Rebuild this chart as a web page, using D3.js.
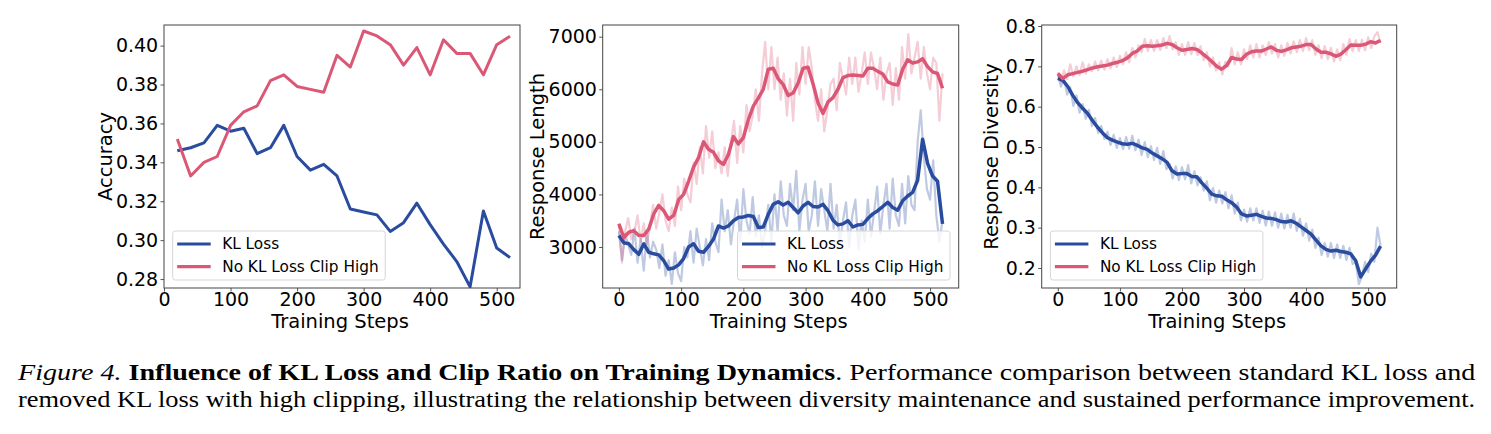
<!DOCTYPE html>
<html lang="en">
<head>
<meta charset="UTF-8" />
<title>Figure 4</title>
<style>
  body { margin: 0; background: #fff; }
  svg text { font-family: 'DejaVu Sans', sans-serif; fill: #000; }
  .caption text { font-family: 'Liberation Serif', 'Times New Roman', serif; }
</style>
</head>
<body>
<svg id="fig" width="1491" height="434"></svg>
<script src="https://cdn.jsdelivr.net/npm/d3@7"></script>
<script>
// ---- data ----
const seriesNames = ['KL Loss', 'No KL Loss Clip High'];

// panel 1: accuracy, evaluated every 20 steps
const accSteps = [20, 40, 60, 80, 100, 120, 140, 160, 180, 200, 220, 240, 260,
  280, 300, 320, 340, 360, 380, 400, 420, 440, 460, 480, 500, 520];
const accKL = [0.346, 0.3475, 0.350, 0.359, 0.356, 0.3575, 0.3445, 0.3475, 0.359, 0.343,
  0.336, 0.339, 0.333, 0.316, 0.3145, 0.313, 0.3045, 0.309, 0.319, 0.308,
  0.298, 0.289, 0.276, 0.315, 0.296, 0.291];
const accNoKL = [0.352, 0.333, 0.340, 0.343, 0.359, 0.366, 0.369, 0.382, 0.385, 0.379,
  0.3775, 0.376, 0.395, 0.389, 0.4075, 0.405, 0.4005, 0.390, 0.399, 0.385,
  0.403, 0.396, 0.396, 0.385, 0.4005, 0.4048];

// panels 2 and 3: raw curve read every 5 steps, smoothed curve every 8 steps
const rawSteps = d3.range(0, 521, 5);
const smoothSteps = d3.range(0, 521, 8);

const lenKLRaw = [3300, 2750, 3250, 3050, 2850, 3350, 2700, 3150, 2550, 3300,
  2800, 3100, 2950, 2600, 3050, 2450, 2750, 2300, 2900, 2500,
  2350, 3000, 2800, 3300, 2700, 3350, 3000, 2650, 3150, 2750,
  3450, 3100, 2900, 3900, 3300, 3700, 3050, 3500, 3900, 3100,
  4100, 3500, 3250, 3950, 3200, 3600, 3000, 3300, 3800, 3100,
  4000, 3300, 4250, 3600, 3400, 4200, 3700, 4450, 3300, 3900,
  4200, 3300, 3600, 4250, 3400, 4100, 3700, 3300, 4200, 3350,
  3800, 3050, 3500, 3850, 3000, 3600, 3900, 2950, 3500, 3100,
  3900, 3200, 3650, 4150, 3250, 3800, 4200, 3350, 4300, 3600,
  3400, 4200, 3450, 4350, 3800, 3700, 5000, 5600, 4700, 4100,
  3900, 4650, 3600, 3100, 3500];
const lenNoKLRaw = [3450, 2700, 3300, 3550, 3150, 3300, 3600, 3100, 3450, 3050,
  3400, 3800, 3350, 3650, 4000, 3500, 3300, 3750, 3400, 4150,
  3700, 4300, 4000, 3850, 4600, 4200, 4900, 4400, 5300, 4700,
  5200, 4500, 4800, 4400, 4900, 4350, 5000, 5400, 4600, 5300,
  4800, 5700, 5200, 5500, 6000, 5400, 6300, 6900, 6000, 6800,
  6000, 6600, 5800, 6300, 5500, 6200, 5400, 6500, 5900, 6800,
  6100, 6800, 6400, 5800, 5400, 6000, 5200, 5600, 6100, 6200,
  5600, 6500, 6200, 5900, 6600, 6100, 6600, 5950, 6300, 6700,
  6100, 6700, 6400, 6000, 6600, 5800, 6300, 6500, 5700, 6400,
  5800, 6800, 6200, 7050, 6300, 6600, 6900, 6200, 6800, 6300,
  6000, 6600, 6500, 5400, 6300];
const lenKLSmooth = [3220, 3080, 3060, 2950, 2860, 3060, 2900, 2870, 2850, 2740,
  2580, 2600, 2660, 2780, 3000, 3060, 2920, 2900, 3010, 3150,
  3400, 3360, 3400, 3500, 3560, 3570, 3600, 3580, 3370, 3380,
  3620, 3810, 3860, 3800, 3850, 3750, 3650, 3780, 3850, 3770,
  3760, 3810, 3690, 3510, 3420, 3440, 3500, 3380, 3420, 3430,
  3540, 3630, 3690, 3770, 3850, 3750, 3700, 3880, 3970, 4040,
  4270, 5050, 4590, 4350, 4250, 3440];
const lenNoKLSmooth = [3440, 3180, 3280, 3310, 3220, 3220, 3340, 3630, 3790, 3690,
  3530, 3600, 3900, 4000, 4250, 4520, 4700, 5000, 4860, 4800,
  4640, 4570, 4760, 5100, 4960, 5080, 5420, 5680, 5830, 6000,
  6380, 6400, 6200, 6090, 5880, 5930, 6120, 6400, 6420, 6100,
  5740, 5540, 5760, 5840, 6000, 6220, 6260, 6270, 6260, 6250,
  6400, 6400, 6340, 6290, 6140, 6100, 6080, 6380, 6560, 6500,
  6520, 6580, 6430, 6330, 6300, 6020];

const divKLRaw = [0.680, 0.650, 0.670, 0.630, 0.648, 0.602, 0.628, 0.585, 0.606, 0.570,
  0.592, 0.552, 0.572, 0.535, 0.552, 0.520, 0.538, 0.505, 0.530, 0.498,
  0.522, 0.495, 0.525, 0.496, 0.528, 0.492, 0.518, 0.480, 0.512, 0.475,
  0.502, 0.468, 0.498, 0.458, 0.490, 0.445, 0.458, 0.422, 0.452, 0.418,
  0.450, 0.420, 0.455, 0.410, 0.440, 0.405, 0.425, 0.392, 0.415, 0.368,
  0.398, 0.362, 0.392, 0.360, 0.388, 0.348, 0.380, 0.335, 0.362, 0.318,
  0.345, 0.315, 0.348, 0.318, 0.348, 0.312, 0.342, 0.305, 0.340, 0.305,
  0.338, 0.300, 0.335, 0.298, 0.332, 0.300, 0.335, 0.292, 0.322, 0.280,
  0.310, 0.268, 0.295, 0.250, 0.275, 0.232, 0.262, 0.228, 0.262, 0.225,
  0.258, 0.225, 0.255, 0.220, 0.250, 0.210, 0.215, 0.160, 0.180, 0.215,
  0.190, 0.235, 0.215, 0.300, 0.255];
const divNoKLRaw = [0.685, 0.660, 0.690, 0.668, 0.705, 0.675, 0.700, 0.678, 0.710, 0.682,
  0.705, 0.688, 0.712, 0.690, 0.714, 0.692, 0.718, 0.695, 0.722, 0.698,
  0.726, 0.705, 0.735, 0.710, 0.745, 0.722, 0.752, 0.735, 0.768, 0.738,
  0.765, 0.738, 0.765, 0.740, 0.770, 0.745, 0.775, 0.742, 0.760, 0.728,
  0.755, 0.728, 0.760, 0.730, 0.758, 0.728, 0.750, 0.715, 0.735, 0.700,
  0.722, 0.690, 0.710, 0.680, 0.712, 0.700, 0.745, 0.705, 0.735, 0.705,
  0.742, 0.718, 0.752, 0.722, 0.755, 0.722, 0.752, 0.728, 0.760, 0.732,
  0.755, 0.722, 0.752, 0.726, 0.758, 0.732, 0.762, 0.735, 0.765, 0.738,
  0.770, 0.740, 0.765, 0.728, 0.752, 0.720, 0.750, 0.718, 0.746, 0.712,
  0.742, 0.715, 0.755, 0.728, 0.768, 0.738, 0.765, 0.738, 0.766, 0.740,
  0.772, 0.745, 0.775, 0.785, 0.758];
const divKLSmooth = [0.670, 0.665, 0.650, 0.628, 0.610, 0.596, 0.583, 0.565, 0.549, 0.535,
  0.523, 0.517, 0.512, 0.508, 0.507, 0.509, 0.504, 0.498, 0.494, 0.485,
  0.478, 0.471, 0.462, 0.441, 0.433, 0.434, 0.434, 0.427, 0.426, 0.411,
  0.398, 0.383, 0.379, 0.378, 0.369, 0.362, 0.351, 0.334, 0.329, 0.331,
  0.333, 0.328, 0.324, 0.323, 0.320, 0.315, 0.314, 0.317, 0.311, 0.302,
  0.293, 0.284, 0.269, 0.255, 0.246, 0.242, 0.244, 0.241, 0.239, 0.235,
  0.218, 0.178, 0.198, 0.217, 0.232, 0.254];
const divNoKLSmooth = [0.682, 0.670, 0.679, 0.682, 0.685, 0.688, 0.692, 0.696, 0.699, 0.701,
  0.703, 0.707, 0.710, 0.714, 0.721, 0.732, 0.738, 0.750, 0.751, 0.750,
  0.751, 0.753, 0.757, 0.754, 0.746, 0.740, 0.742, 0.744, 0.742, 0.733,
  0.723, 0.712, 0.700, 0.693, 0.702, 0.722, 0.718, 0.717, 0.730, 0.736,
  0.738, 0.738, 0.743, 0.748, 0.740, 0.737, 0.741, 0.746, 0.748, 0.750,
  0.754, 0.754, 0.743, 0.735, 0.735, 0.731, 0.725, 0.730, 0.741, 0.753,
  0.752, 0.752, 0.755, 0.761, 0.758, 0.764];

// tick labels
const xTicks = [0, 100, 200, 300, 400, 500];
const accTicks = [0.28, 0.30, 0.32, 0.34, 0.36, 0.38, 0.40];
const lenTicks = [3000, 4000, 5000, 6000, 7000];
const divTicks = [0.2, 0.3, 0.4, 0.5, 0.6, 0.7, 0.8];

// ---- drawing ----
const BLUE = '#2a4c9f';
const PINK = '#da5876';
const TOP = 25, BOTTOM = 288;

const svg = d3.select('#fig');

function drawPanel(opt) {
  const g = svg.append('g');
  const x = d3.scaleLinear().domain(opt.xDomain).range([opt.left, opt.left + opt.width]);
  const y = d3.scaleLinear().domain(opt.yDomain).range([BOTTOM, TOP]);

  const clipId = 'clip-' + opt.id;
  g.append('clipPath').attr('id', clipId)
    .append('rect')
    .attr('x', opt.left).attr('y', TOP)
    .attr('width', opt.width).attr('height', BOTTOM - TOP);

  const plot = g.append('g').attr('clip-path', `url(#${clipId})`);
  opt.series.forEach((s) => {
    const line = d3.line()
      .x((d, i) => x(s.steps[i]))
      .y((d) => y(d));
    plot.append('path')
      .attr('d', line(s.values))
      .attr('fill', 'none')
      .attr('stroke', s.color)
      .attr('stroke-width', s.width)
      .attr('stroke-opacity', s.opacity || 1)
      .attr('stroke-linejoin', 'round');
  });

  // axes
  const xAxis = g.append('g')
    .attr('transform', `translate(0,${BOTTOM})`)
    .call(d3.axisBottom(x).tickValues(xTicks).tickSize(3.5).tickPadding(1.5));
  const yAxis = g.append('g')
    .attr('transform', `translate(${opt.left},0)`)
    .call(d3.axisLeft(y).tickValues(opt.yTicks).tickFormat(opt.yFormat)
      .tickSize(3.5).tickPadding(2.3));
  [xAxis, yAxis].forEach((a) => {
    a.select('.domain').remove();
    a.selectAll('line').attr('stroke', '#444').attr('stroke-width', 0.9);
    a.selectAll('text')
      .attr('font-size', 19)
      .attr('font-family', "'DejaVu Sans', sans-serif")
      .attr('fill', '#000');
  });

  // frame
  g.append('rect')
    .attr('x', opt.left).attr('y', TOP)
    .attr('width', opt.width).attr('height', BOTTOM - TOP)
    .attr('fill', 'none').attr('stroke', '#444').attr('stroke-width', 1);

  // axis labels
  g.append('text')
    .attr('x', opt.left + opt.width / 2 - 2)
    .attr('y', 328)
    .attr('text-anchor', 'middle')
    .attr('font-size', 19.5)
    .text('Training Steps');
  g.append('text')
    .attr('transform', `translate(${opt.yLabelX},${(TOP + BOTTOM) / 2}) rotate(-90)`)
    .attr('text-anchor', 'middle')
    .attr('dominant-baseline', 'central')
    .attr('font-size', 19.5)
    .text(opt.yLabel);

  // legend
  const lw = 212.5, lh = 49;
  const lx = opt.legendRight ? opt.left + opt.width - 8.7 - lw : opt.left + 8.7;
  const ly = BOTTOM - 8 - lh;
  const leg = g.append('g').attr('transform', `translate(${lx},${ly})`);
  leg.append('rect')
    .attr('width', lw).attr('height', lh).attr('rx', 2.5)
    .attr('fill', '#fff').attr('fill-opacity', 0.8)
    .attr('stroke', '#d6d6d6').attr('stroke-width', 1);
  [BLUE, PINK].forEach((c, i) => {
    const cy = 13 + i * 22.7;
    leg.append('line')
      .attr('x1', 4.5).attr('x2', 38)
      .attr('y1', cy).attr('y2', cy)
      .attr('stroke', c).attr('stroke-width', 3.2);
    leg.append('text')
      .attr('x', 49.5).attr('y', cy)
      .attr('dominant-baseline', 'central')
      .attr('font-size', 15.3)
      .text(seriesNames[i]);
  });
}

drawPanel({
  id: 'acc', left: 164, width: 356, xDomain: [0, 535], yDomain: [0.2754, 0.4106],
  yTicks: accTicks, yFormat: d3.format('.2f'), yLabel: 'Accuracy', yLabelX: 105,
  series: [
    { steps: accSteps, values: accKL, color: BLUE, width: 3 },
    { steps: accSteps, values: accNoKL, color: PINK, width: 3 }
  ]
});

drawPanel({
  id: 'len', left: 602.7, width: 356, xDomain: [-26, 546], yDomain: [2220, 7222],
  yTicks: lenTicks, yFormat: d3.format('d'), yLabel: 'Response Length', yLabelX: 537,
  legendRight: true,
  series: [
    { steps: rawSteps, values: lenKLRaw, color: BLUE, width: 2.2, opacity: 0.3 },
    { steps: rawSteps, values: lenNoKLRaw, color: PINK, width: 2.2, opacity: 0.3 },
    { steps: smoothSteps, values: lenKLSmooth, color: BLUE, width: 3.5 },
    { steps: smoothSteps, values: lenNoKLSmooth, color: PINK, width: 3.5 }
  ]
});

drawPanel({
  id: 'div', left: 1041.7, width: 355, xDomain: [-26, 546], yDomain: [0.1504, 0.8025],
  yTicks: divTicks, yFormat: d3.format('.1f'), yLabel: 'Response Diversity', yLabelX: 991.7,
  series: [
    { steps: rawSteps, values: divKLRaw, color: BLUE, width: 2.2, opacity: 0.3 },
    { steps: rawSteps, values: divNoKLRaw, color: PINK, width: 2.2, opacity: 0.3 },
    { steps: smoothSteps, values: divKLSmooth, color: BLUE, width: 3.5 },
    { steps: smoothSteps, values: divNoKLSmooth, color: PINK, width: 3.5 }
  ]
});

// ---- caption, stretched to span x=18..1476 like the printed figure ----
const cap = svg.append('g').attr('class', 'caption');
const capLeft = 18, capWidth = 1458;

const line1 = cap.append('text').attr('font-size', 23.5);
line1.append('tspan').attr('font-style', 'italic').text('Figure 4.');
line1.append('tspan').text('  ');
line1.append('tspan').attr('font-weight', 'bold')
  .text('Influence of KL Loss and Clip Ratio on Training Dynamics');
line1.append('tspan').text('.  Performance comparison between standard KL loss and');

const line2 = cap.append('text').attr('font-size', 23.5)
  .text('removed KL loss with high clipping, illustrating the relationship between diversity maintenance and sustained performance improvement.');

[[line1, 380], [line2, 407]].forEach(([t, baseline]) => {
  const w = t.node().getComputedTextLength();
  t.attr('transform', `translate(${capLeft},${baseline}) scale(${capWidth / w},1)`);
});
</script>
</body>
</html>
